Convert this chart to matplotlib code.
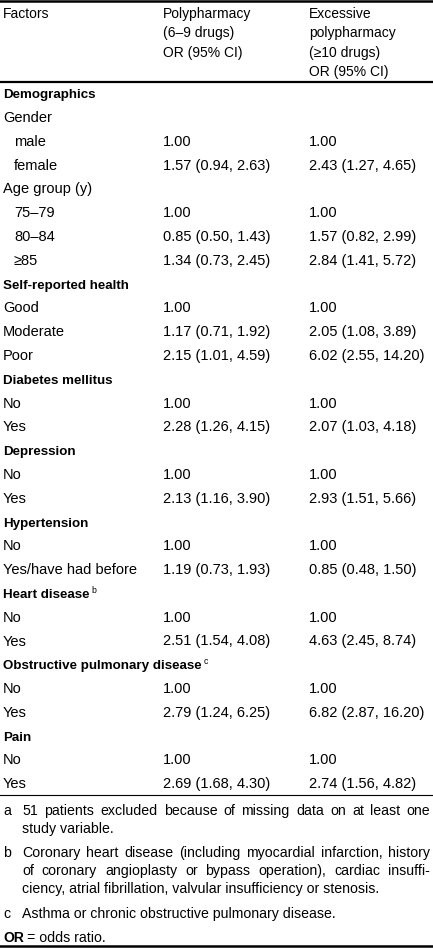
import matplotlib
matplotlib.use("Agg")
import matplotlib.pyplot as plt

plt.rcParams['font.family'] = ['Liberation Sans', 'DejaVu Sans']

# column headings
head1 = ["Factors"]
head2 = ["Polypharmacy", "(6–9 drugs)", "OR (95% CI)"]
head3 = ["Excessive", "polypharmacy", "(≥10 drugs)", "OR (95% CI)"]

factors = ["Demographics", "Gender", "male", "female", "Age group (y)",
           "75–79", "80–84", "≥85", "Self-reported health", "Good",
           "Moderate", "Poor", "Diabetes mellitus", "No", "Yes",
           "Depression", "No", "Yes", "Hypertension", "No",
           "Yes/have had before", "Heart disease", "No", "Yes",
           "Obstructive pulmonary disease", "No", "Yes", "Pain", "No", "Yes"]

# 0 = section (bold), 1 = plain row, 2 = indented row
level = [0, 1, 2, 2, 1, 2, 2, 2, 0, 1, 1, 1, 0, 1, 1, 0, 1, 1, 0, 1, 1,
         0, 1, 1, 0, 1, 1, 0, 1, 1]

poly = ["", "", "1.00", "1.57 (0.94, 2.63)", "", "1.00", "0.85 (0.50, 1.43)",
        "1.34 (0.73, 2.45)", "", "1.00", "1.17 (0.71, 1.92)", "2.15 (1.01, 4.59)",
        "", "1.00", "2.28 (1.26, 4.15)", "", "1.00", "2.13 (1.16, 3.90)",
        "", "1.00", "1.19 (0.73, 1.93)", "", "1.00", "2.51 (1.54, 4.08)",
        "", "1.00", "2.79 (1.24, 6.25)", "", "1.00", "2.69 (1.68, 4.30)"]

excess = ["", "", "1.00", "2.43 (1.27, 4.65)", "", "1.00", "1.57 (0.82, 2.99)",
          "2.84 (1.41, 5.72)", "", "1.00", "2.05 (1.08, 3.89)", "6.02 (2.55, 14.20)",
          "", "1.00", "2.07 (1.03, 4.18)", "", "1.00", "2.93 (1.51, 5.66)",
          "", "1.00", "0.85 (0.48, 1.50)", "", "1.00", "4.63 (2.45, 8.74)",
          "", "1.00", "6.82 (2.87, 16.20)", "", "1.00", "2.74 (1.56, 4.82)"]

marks = {"Heart disease": "b", "Obstructive pulmonary disease": "c"}

notes = [
    ("a", ["51 patients excluded because of missing data on at least one",
           "study variable."]),
    ("b", ["Coronary heart disease (including myocardial infarction, history",
           "of coronary angioplasty or bypass operation), cardiac insuffi-",
           "ciency, atrial fibrillation, valvular insufficiency or stenosis."]),
    ("c", ["Asthma or chronic obstructive pulmonary disease."]),
]

W, H = 433, 948
fig = plt.figure(figsize=(W / 100, H / 100), dpi=100)
ax = fig.add_axes([0, 0, 1, 1])
ax.set_xlim(0, W)
ax.set_ylim(H, 0)
ax.set_axis_off()
r = fig.canvas.get_renderer()

fs = 10.5      # body text
fsb = 9.6      # bold headings
fsh = 10.0     # column heads
fsn = 10.2     # footnotes
x1, x1i, x2, x3 = 3, 14, 163, 309
base = 4.6     # centre -> baseline offset (px)


def put(x, y, s, size=fs, **kw):
    return ax.text(x, y + base, s, va="baseline", ha="left", color="black",
                   fontsize=size, **kw)


def width(t):
    return t.get_window_extent(renderer=r).width


# rules
ax.plot([0, W], [1.2, 1.2], color="black", lw=1.8)
ax.plot([0, W], [81.5, 81.5], color="black", lw=1.6)
ax.plot([0, W], [795, 795], color="black", lw=0.8)
ax.plot([0, W], [945.5, 945.5], color="black", lw=1.8)

# header
hy = 13
dy = 19.6
for i, s in enumerate(head1):
    put(x1, hy + i * dy, s, fsh)
for i, s in enumerate(head2):
    put(x2, hy + i * dy, s, fsh)
for i, s in enumerate(head3):
    put(x3, hy + i * dy, s, fsh)

# body
y0, step = 93.5, 23.8
for i, lab in enumerate(factors):
    y = y0 + i * step
    if level[i] == 0:
        t = put(x1, y, lab, fsb, fontweight="bold")
        if lab in marks:
            put(x1 + width(t) + 1.5, y - 5, marks[lab], 6.2)
    elif level[i] == 1:
        put(x1, y, lab)
    else:
        put(x1i, y, lab)
    if poly[i]:
        put(x2, y, poly[i])
    if excess[i]:
        put(x3, y, excess[i])

# footnotes, justified
left, right = 22, 430
ny = 810
for letter, lines in notes:
    put(x1, ny, letter, fsn)
    for j, line in enumerate(lines):
        if j == len(lines) - 1:
            put(left, ny, line, fsn)
        else:
            words = line.split(" ")
            ts = [put(0, ny, w_, fsn) for w_ in words]
            ws = [width(t) for t in ts]
            gap = (right - left - sum(ws)) / (len(words) - 1)
            xx = left
            for t, w_ in zip(ts, ws):
                t.set_x(xx)
                xx += w_ + gap
            ny += 18
    ny += 24.5

t = put(x1, ny, "OR", fsb + 0.4, fontweight="bold")
put(x1 + width(t) + 3, ny, "= odds ratio.", fsn)

fig.savefig("out.png", dpi=100)
